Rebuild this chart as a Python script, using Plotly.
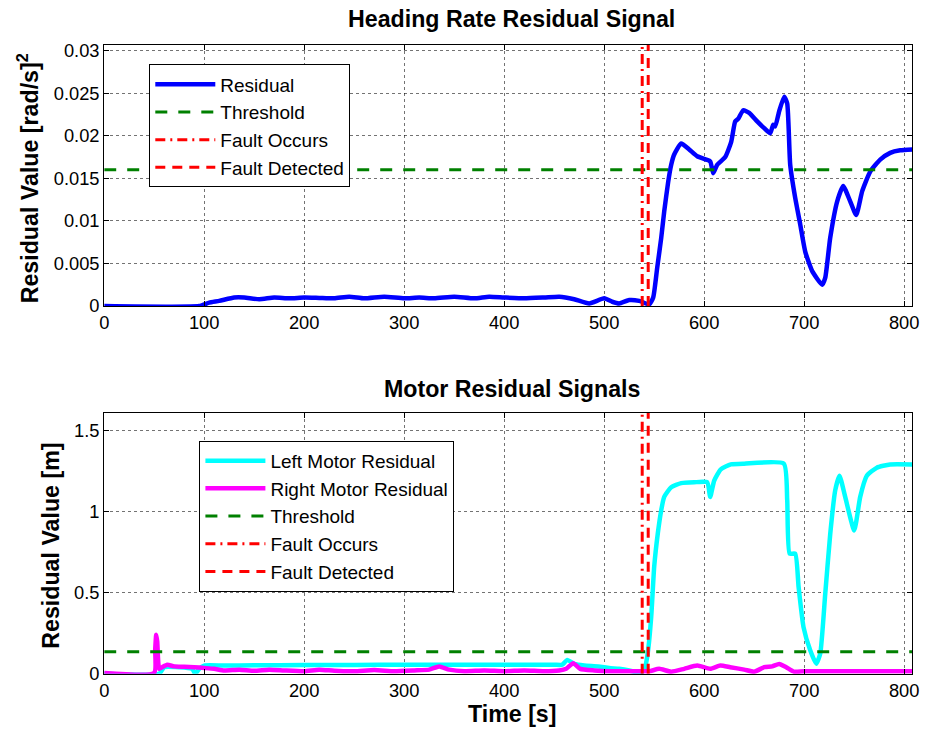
import plotly.graph_objects as go

# ---------------- data ----------------
t_heading = [0, 95, 105, 115, 130, 140, 155, 170, 185, 200, 215, 230, 245, 260, 280, 300, 315, 330,
             350, 370, 385, 400, 420, 440, 455, 470, 485, 500, 508, 515, 525, 535, 545, 549, 553,
             557, 560, 564, 567, 570, 577, 585, 593, 602, 606, 609, 613, 621, 627, 631, 634, 639,
             645, 653, 660, 666, 669, 671, 675, 680, 683, 686, 691, 696, 701, 708, 718, 721, 726,
             733, 739, 746, 752, 758, 766, 776, 786, 796, 808]
heading_residual = [0, 0, 0.0004, 0.0006, 0.001, 0.001, 0.0008, 0.001, 0.0009, 0.001, 0.00095, 0.0009,
                    0.0011, 0.0009, 0.0011, 0.0009, 0.001, 0.0009, 0.0011, 0.0009, 0.0011, 0.001,
                    0.0009, 0.001, 0.0011, 0.0008, 0.0003, 0.0009, 0.0005, 0.0003, 0.0007, 0.0006,
                    0.0002, 0.001, 0.0045, 0.008, 0.0111, 0.0146, 0.0166, 0.0178, 0.0191, 0.0184,
                    0.0176, 0.0172, 0.0170, 0.0156, 0.0166, 0.0175, 0.0193, 0.0217, 0.0220, 0.0230,
                    0.0227, 0.0217, 0.0209, 0.0203, 0.0213, 0.0211, 0.0229, 0.0246, 0.0238, 0.0166,
                    0.0127, 0.0096, 0.0064, 0.0041, 0.0025, 0.0033, 0.0080, 0.0123, 0.0141, 0.0123,
                    0.0107, 0.0135, 0.0158, 0.0172, 0.0180, 0.0183, 0.0184]
heading_threshold = 0.016

t_left = [0, 55, 60, 75, 88, 91, 95, 100, 120, 150, 200, 250, 300, 350, 400, 450, 458, 463, 470, 480,
          494, 505, 515, 525, 535, 540, 543.5, 547, 550, 553.6, 557, 560, 567, 577, 590, 603, 606,
          610, 616.6, 626.6, 640, 679.6, 683, 685.4, 691, 694.4, 699.3, 706, 712, 716, 721, 726,
          731, 735.3, 741, 750, 756, 762.6, 772.6, 785.9, 808]
left_motor = [0, 0, 0.04, 0.04, 0.03, 0.0, 0.03, 0.05, 0.05, 0.052, 0.053, 0.054, 0.055, 0.055,
              0.055, 0.055, 0.055, 0.085, 0.06, 0.05, 0.045, 0.035, 0.03, 0.02, 0.005, 0.02, 0.125,
              0.35, 0.66, 0.865, 1.007, 1.09, 1.15, 1.175, 1.18, 1.18, 1.09, 1.19, 1.26, 1.29, 1.295,
              1.295, 1.07, 0.74, 0.74, 0.534, 0.287, 0.144, 0.062, 0.123, 0.49, 0.86, 1.13, 1.22,
              1.09, 0.883, 1.09, 1.22, 1.27, 1.29, 1.29]

t_right = [0, 50, 51, 52, 53, 55, 58, 63, 70, 80, 90, 100, 110, 120, 135, 150, 165, 180, 200, 215,
           230, 250, 270, 290, 310, 325, 335, 345, 360, 380, 400, 420, 440, 455, 462, 469, 476, 490,
           505, 520, 535, 545, 555, 567, 580, 593, 606, 616, 626, 640, 650, 660, 668, 675, 682, 690,
           700, 808]
right_motor = [0.005, 0.005, 0.15, 0.24, 0.2, 0.03, 0.04, 0.055, 0.045, 0.043, 0.04, 0.035, 0.03,
               0.02, 0.025, 0.018, 0.025, 0.02, 0.015, 0.025, 0.018, 0.015, 0.022, 0.015, 0.02,
               0.025, 0.045, 0.025, 0.015, 0.02, 0.015, 0.02, 0.015, 0.02, 0.03, 0.065, 0.03, 0.02,
               0.015, 0.015, 0.015, 0.015, 0.03, 0.012, 0.03, 0.05, 0.03, 0.05, 0.04, 0.025, 0.012,
               0.04, 0.045, 0.06, 0.04, 0.012, 0.015, 0.015]
motor_threshold = 0.135

fault_occurs = 538
fault_detected = 544

x_range = [0, 808]
y_range_top = [0, 0.0307]
y_range_bottom = [0, 1.61]
x_ticks = [0, 100, 200, 300, 400, 500, 600, 700, 800]
y_ticks_top = [0, 0.005, 0.01, 0.015, 0.02, 0.025, 0.03]
y_ticks_top_text = ["0", "0.005", "0.01", "0.015", "0.02", "0.025", "0.03"]
y_ticks_bottom = [0, 0.5, 1, 1.5]
y_ticks_bottom_text = ["0", "0.5", "1", "1.5"]

# ---------------- figure ----------------
FONT = "Liberation Sans, Arial, Helvetica, sans-serif"
W, H = 927, 732


def px(x):
    return ((x - 4.0) / 0.985) / W


def py(y):
    return 1 - (1.0192 * y - 3.55) / H


fig = go.Figure()

BLUE = "rgb(0,0,255)"
GREEN = "rgb(0,128,0)"
RED = "rgb(255,0,0)"
CYAN = "rgb(0,255,255)"
MAGENTA = "rgb(255,0,255)"
DASH_TH = "12px,11px"
DASH_FD = "10px,7px"
DASH_FO = "10px,5px,2px,5px"
SM = 0.5

# top subplot
fig.add_trace(go.Scatter(x=t_heading, y=heading_residual, mode="lines", name="Residual",
                         line=dict(color=BLUE, width=4.5, shape="spline", smoothing=SM),
                         xaxis="x", yaxis="y", legend="legend", legendgroup="a1"))
fig.add_trace(go.Scatter(x=x_range, y=[heading_threshold] * 2, mode="lines", name="Threshold",
                         line=dict(color=GREEN, width=3, dash=DASH_TH), xaxis="x", yaxis="y",
                         legend="legend", legendgroup="a2"))
fig.add_trace(go.Scatter(x=[fault_occurs] * 2, y=y_range_top, mode="lines", name="Fault Occurs",
                         line=dict(color=RED, width=3, dash=DASH_FO), xaxis="x", yaxis="y",
                         legend="legend", legendgroup="a3"))
fig.add_trace(go.Scatter(x=[fault_detected] * 2, y=y_range_top, mode="lines", name="Fault Detected",
                         line=dict(color=RED, width=3, dash=DASH_FD), xaxis="x", yaxis="y",
                         legend="legend", legendgroup="a4"))

# bottom subplot
fig.add_trace(go.Scatter(x=t_left, y=left_motor, mode="lines", name="Left Motor Residual",
                         line=dict(color=CYAN, width=4.5, shape="spline", smoothing=SM),
                         xaxis="x2", yaxis="y2", legend="legend2", legendgroup="b1"))
fig.add_trace(go.Scatter(x=t_right, y=right_motor, mode="lines", name="Right Motor Residual",
                         line=dict(color=MAGENTA, width=4.5, shape="spline", smoothing=SM),
                         xaxis="x2", yaxis="y2", legend="legend2", legendgroup="b2"))
fig.add_trace(go.Scatter(x=x_range, y=[motor_threshold] * 2, mode="lines", name="Threshold",
                         line=dict(color=GREEN, width=3, dash=DASH_TH), xaxis="x2", yaxis="y2",
                         legend="legend2", legendgroup="b3"))
fig.add_trace(go.Scatter(x=[fault_occurs] * 2, y=y_range_bottom, mode="lines", name="Fault Occurs",
                         line=dict(color=RED, width=3, dash=DASH_FO), xaxis="x2", yaxis="y2",
                         legend="legend2", legendgroup="b4"))
fig.add_trace(go.Scatter(x=[fault_detected] * 2, y=y_range_bottom, mode="lines", name="Fault Detected",
                         line=dict(color=RED, width=3, dash=DASH_FD), xaxis="x2", yaxis="y2",
                         legend="legend2", legendgroup="b5"))

# plot area: left edge from the reference, right edge chosen so the "800" label stays on the page
left_px = (103 - 4.0) / 0.985
right_px = left_px + (911 - left_px) * x_range[1] / 800
x_dom = [left_px / W, right_px / W]
top_dom = [py(305), py(43.3)]
bot_dom = [py(673.3), py(411.7)]

common_axis = dict(showline=True, linecolor="black", linewidth=1, mirror="ticks",
                   ticks="inside", ticklen=5, tickcolor="black", tickwidth=1,
                   showgrid=True, gridcolor="rgba(0,0,0,0.55)", griddash="dot", gridwidth=1,
                   zeroline=False, ticklabeloverflow="allow",
                   tickfont=dict(family=FONT, size=18.3, color="black"))

legend_common = dict(bgcolor="white", bordercolor="black", borderwidth=1,
                     font=dict(family=FONT, size=19, color="black"),
                     xanchor="left", yanchor="top", tracegroupgap=0, traceorder="grouped",
                     itemwidth=60)

fig.update_layout(
    width=W, height=H,
    margin=dict(l=0, r=0, t=0, b=0),
    paper_bgcolor="white", plot_bgcolor="white",
    showlegend=True,
    xaxis=dict(domain=x_dom, range=x_range, tickvals=x_ticks, anchor="y", **common_axis),
    yaxis=dict(domain=top_dom, range=y_range_top, tickvals=y_ticks_top, ticktext=y_ticks_top_text,
               anchor="x", **common_axis),
    xaxis2=dict(domain=x_dom, range=x_range, tickvals=x_ticks, anchor="y2", **common_axis),
    yaxis2=dict(domain=bot_dom, range=y_range_bottom, tickvals=y_ticks_bottom,
                ticktext=y_ticks_bottom_text, anchor="x2", **common_axis),
    legend=dict(x=px(148), y=py(63), **legend_common),
    legend2=dict(x=px(198), y=py(440), **legend_common),
)

ann_font = dict(family=FONT, size=23.2, color="black")
fig.add_annotation(text="<b>Heading Rate Residual Signal</b>", x=px(509.5), y=py(18),
                   xref="paper", yref="paper", showarrow=False, font=ann_font,
                   xanchor="center", yanchor="middle")
fig.add_annotation(text="<b>Motor Residual Signals</b>", x=px(509.5), y=py(388),
                   xref="paper", yref="paper", showarrow=False, font=ann_font,
                   xanchor="center", yanchor="middle")
fig.add_annotation(text="<b>Time [s]</b>", x=px(509.5), y=py(714),
                   xref="paper", yref="paper", showarrow=False, font=ann_font,
                   xanchor="center", yanchor="middle")
fig.add_annotation(text="<b>Residual Value [rad/s]<sup>2</sup></b>", x=px(27), y=py(177),
                   xref="paper", yref="paper", showarrow=False, font=ann_font, textangle=-90,
                   xanchor="center", yanchor="middle")
fig.add_annotation(text="<b>Residual Value [m]</b>", x=px(50), y=py(545),
                   xref="paper", yref="paper", showarrow=False, font=ann_font, textangle=-90,
                   xanchor="center", yanchor="middle")

fig.write_html(
    "out.html",
    config={"displayModeBar": False},
    post_script=("document.documentElement.style.margin='0';"
                 "document.body.style.margin='0';"
                 "document.body.style.overflow='hidden';"
                 "document.documentElement.style.overflow='hidden';"),
)
